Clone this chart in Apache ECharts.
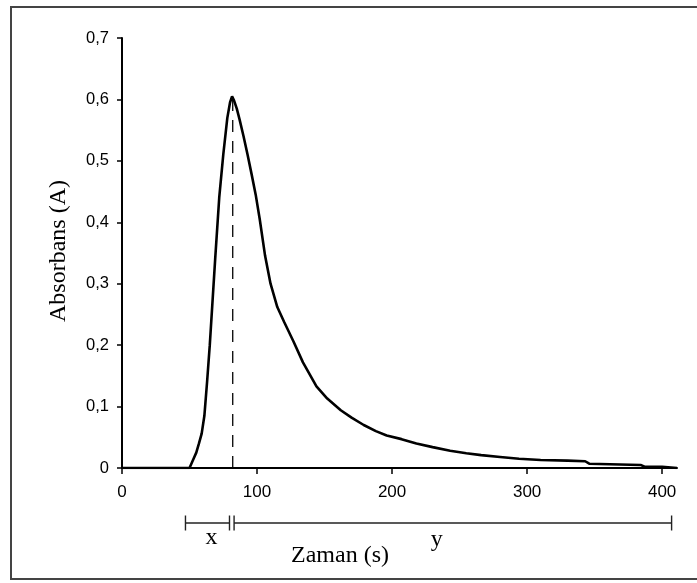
<!DOCTYPE html>
<html>
<head>
<meta charset="utf-8">
<script src="https://cdn.jsdelivr.net/npm/echarts@6/dist/echarts.min.js"></script>
<style>
  html, body { margin: 0; padding: 0; background: #fff; }
  #chart { width: 697px; height: 583px; }
</style>
</head>
<body>
<div id="chart"></div>
<script>
// ---- data ----
const times = [0, 20, 40, 50, 53, 55, 57, 59, 61, 63, 65, 67, 69, 72, 75, 78, 80, 81.5, 83, 85, 87, 90, 93, 96, 99, 102, 106, 110, 115, 120, 127, 134, 144, 152, 162, 170, 179, 188, 196, 207, 218, 230, 243, 255, 266, 280, 294, 310, 330, 343, 346, 384, 387, 400, 411];
const absorbance = [0, 0, 0, 0, 0.015, 0.025, 0.04, 0.056, 0.085, 0.14, 0.2, 0.27, 0.34, 0.44, 0.51, 0.57, 0.595, 0.605, 0.598, 0.585, 0.568, 0.54, 0.51, 0.478, 0.445, 0.405, 0.345, 0.30, 0.262, 0.238, 0.206, 0.172, 0.133, 0.113, 0.094, 0.082, 0.07, 0.06, 0.053, 0.047, 0.04, 0.034, 0.028, 0.024, 0.021, 0.018, 0.015, 0.013, 0.012, 0.011, 0.007, 0.005, 0.002, 0.002, 0];
const peakTime = 82;
const peakValue = 0.6;
const xTicks = [0, 100, 200, 300, 400];
const yTicks = [0, 0.1, 0.2, 0.3, 0.4, 0.5, 0.6, 0.7];
const xSpan = [47, 79.6];   // "x" bracket (s)
const ySpan = [83, 407];    // "y" bracket (s)
const xAxisTitle = 'Zaman (s)';
const yAxisTitle = 'Absorbans (A)';

const seriesData = times.map((t, i) => [t, absorbance[i]]);

const chart = echarts.init(document.getElementById('chart'), null, { renderer: 'canvas' });

const sansFont = '"Liberation Sans", Arial, sans-serif';
const serifFont = '"Liberation Serif", "Times New Roman", serif';

chart.setOption({
  animation: false,
  backgroundColor: '#fff',
  grid: { left: 122, right: 20, top: 38, bottom: 115 },
  xAxis: {
    type: 'value', min: 0, max: 411, interval: 100,
    axisLine: { lineStyle: { color: '#000', width: 2 } },
    axisTick: { show: true, length: 6, inside: false, customValues: xTicks, lineStyle: { color: '#000', width: 1.5 } },
    axisLabel: { customValues: xTicks, margin: 16, color: '#000', fontSize: 17, fontFamily: sansFont },
    splitLine: { show: false }
  },
  yAxis: {
    type: 'value', min: 0, max: 0.7, interval: 0.1,
    axisLine: { show: true, lineStyle: { color: '#000', width: 2 } },
    axisTick: { show: true, length: 5, inside: false, lineStyle: { color: '#000', width: 1.5 } },
    axisLabel: {
      margin: 13, color: '#000', fontSize: 16.5, fontFamily: sansFont,
      formatter: v => (Math.abs(v) < 1e-9 ? '0' : v.toFixed(1).replace('.', ','))
    },
    splitLine: { show: false }
  },
  series: [
    {
      type: 'line', data: seriesData, showSymbol: false, smooth: false,
      lineStyle: { color: '#000', width: 2.6 }, z: 3
    },
    {
      type: 'line', data: [[peakTime, 0], [peakTime, peakValue]], showSymbol: false,
      lineStyle: { color: '#000', width: 1.3, type: [12, 9] }, z: 2
    }
  ]
});

// annotation brackets placed through the axis scale
const px = t => chart.convertToPixel({ gridIndex: 0 }, [t, 0])[0];
const by = 523, bh = 7.5;
const lineStyle = { stroke: '#222', lineWidth: 1.4 };
const seg = (x1, y1, x2, y2) => ({ type: 'line', shape: { x1, y1, x2, y2 }, style: lineStyle, silent: true });
const xa = px(xSpan[0]), xb = px(xSpan[1]), ya = px(ySpan[0]), yb = px(ySpan[1]);

chart.setOption({
  graphic: [
    { type: 'rect', shape: { x: 11, y: 7, width: 700, height: 572 }, style: { fill: 'none', stroke: '#444', lineWidth: 2 }, silent: true, z: -10 },
    seg(xa, by, xb, by), seg(xa, by - bh, xa, by + bh), seg(xb, by - bh, xb, by + bh),
    seg(ya, by, yb, by), seg(ya, by - bh, ya, by + bh), seg(yb, by - bh, yb, by + bh),
    { type: 'text', x: (xa + xb) / 2 + 4, y: 538, style: { text: 'x', font: '24px ' + serifFont, fill: '#000', textAlign: 'center', textVerticalAlign: 'middle' } },
    { type: 'text', x: px(233), y: 540, style: { text: 'y', font: '24px ' + serifFont, fill: '#000', textAlign: 'center', textVerticalAlign: 'middle' } },
    { type: 'text', x: 340, y: 556, style: { text: xAxisTitle, font: '24px ' + serifFont, fill: '#000', textAlign: 'center', textVerticalAlign: 'middle' } },
    { type: 'text', x: 59, y: 251, rotation: Math.PI / 2, style: { text: yAxisTitle, font: '24px ' + serifFont, fill: '#000', textAlign: 'center', textVerticalAlign: 'middle' } }
  ]
});
</script>
</body>
</html>
